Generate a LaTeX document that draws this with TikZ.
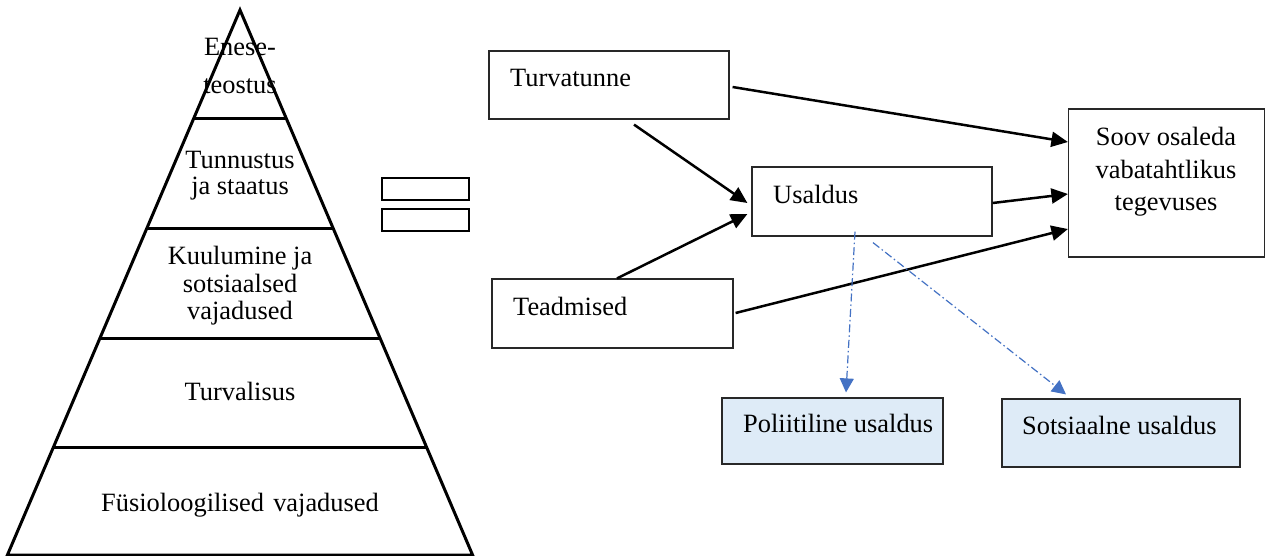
\documentclass[tikz,border=0pt]{standalone}
\usepackage{fontspec}
\setmainfont{Liberation Serif}
\usetikzlibrary{arrows.meta,calc}
\definecolor{lightblue}{RGB}{222,235,247}
\definecolor{arrowblue}{RGB}{68,114,196}
\definecolor{boxline}{RGB}{40,40,40}
\tikzset{
  txt/.style={inner sep=0pt, anchor=base, font=\fontsize{26.4}{30}\selectfont},
  txtl/.style={txt, anchor=base west},
  box/.style={draw=boxline, line width=1.2pt, rectangle, inner sep=0pt},
  bluebox/.style={box, fill=lightblue},
  eqbox/.style={draw=black, line width=2.8pt, rectangle, inner sep=0pt, minimum width=87pt, minimum height=22pt},
  pyr/.style={draw=black, line width=3pt},
  arr/.style={line width=2.5pt, -{Triangle[length=16.5pt,width=15pt]}},
  barr/.style={draw=arrowblue, line width=1.2pt, dash pattern=on 8pt off 3pt on 1.5pt off 3pt, -{Triangle[length=14pt,width=14pt,fill=arrowblue]}}
}
\begin{document}
\begin{tikzpicture}[x=1pt,y=-1pt]
\useasboundingbox (0,0) rectangle (1266,555);
\fill[white] (0,0) rectangle (1266,555);

% Pyramid
\coordinate (apex) at (240,10);
\coordinate (bl) at (7.4,555);
\coordinate (br) at (472.6,555);
\draw[pyr, line join=miter] (apex) -- (bl) -- (br) -- cycle;
\foreach \t in {0.19817,0.4,0.60183,0.80183}{
  \draw[pyr] ($(apex)!\t!(bl)$) -- ($(apex)!\t!(br)$);
}
\node[txt] (p1a) at (240,55) {Enese-};
\node[txt] (p1b) at (240,93) {teostus};
\node[txt] (p2a) at (240,168) {Tunnustus};
\node[txt] (p2b) at (240,194) {ja staatus};
\node[txt] (p3a) at (240,264) {Kuulumine ja};
\node[txt] (p3b) at (240,292) {sotsiaalsed};
\node[txt] (p3c) at (240,319) {vajadused};
\node[txt] (p4) at (240,400) {Turvalisus};
\node[txt] (p5) at (240,511) {Füsioloogilised\hspace{0.35em}vajadused};

% Equals sign
\node[eqbox] (eq1) at (425.5,189) {};
\node[eqbox] (eq2) at (425.5,220) {};

% Model boxes
\node[box, minimum width=240pt, minimum height=68pt] (turv) at (609,85) {};
\node[txtl] (turvt) at (510,86) {Turvatunne};
\node[box, minimum width=240pt, minimum height=69pt] (usal) at (872,201.5) {};
\node[txtl] (usalt) at (773,203) {Usaldus};
\node[box, minimum width=241pt, minimum height=69pt] (tead) at (612.5,313.5) {};
\node[txtl] (teadt) at (513,315) {Teadmised};
\node[box, minimum width=196pt, minimum height=148pt] (soov) at (1166.5,183) {};
\node[txt] (soov1) at (1166,145) {Soov osaleda};
\node[txt] (soov2) at (1166,178) {vabatahtlikus};
\node[txt] (soov3) at (1166,210) {tegevuses};
\node[bluebox, minimum width=221pt, minimum height=66pt] (pol) at (832.5,431) {};
\node[txtl] (polt) at (743,432) {Poliitiline usaldus};
\node[bluebox, minimum width=238pt, minimum height=68pt] (sots) at (1121,433) {};
\node[txtl] (sotst) at (1022,434) {Sotsiaalne usaldus};

% Black arrows
\draw[arr] ([xshift=3pt,yshift=-2pt]turv.east) -- ([yshift=41pt]soov.west);
\draw[arr] ([xshift=25pt,yshift=-5pt]turv.south) -- ([xshift=-4pt,yshift=-1.5pt]usal.west);
\draw[arr] ([xshift=4.5pt]tead.north) -- ([xshift=-4pt,yshift=-12.5pt]usal.west);
\draw[arr] ([yshift=-1.5pt]usal.east) -- ([yshift=-11pt]soov.west);
\draw[arr] ([xshift=2pt,yshift=0.5pt]tead.east) -- ([yshift=-46pt]soov.west);

% Blue dash-dot arrows
\draw[barr] ([xshift=-17pt,yshift=5pt]usal.south) -- ([xshift=13.5pt,yshift=5pt]pol.north);
\draw[barr] ([xshift=1pt,yshift=-6pt]usal.south) -- ([xshift=-55pt,yshift=4pt]sots.north);
\end{tikzpicture}
\end{document}
